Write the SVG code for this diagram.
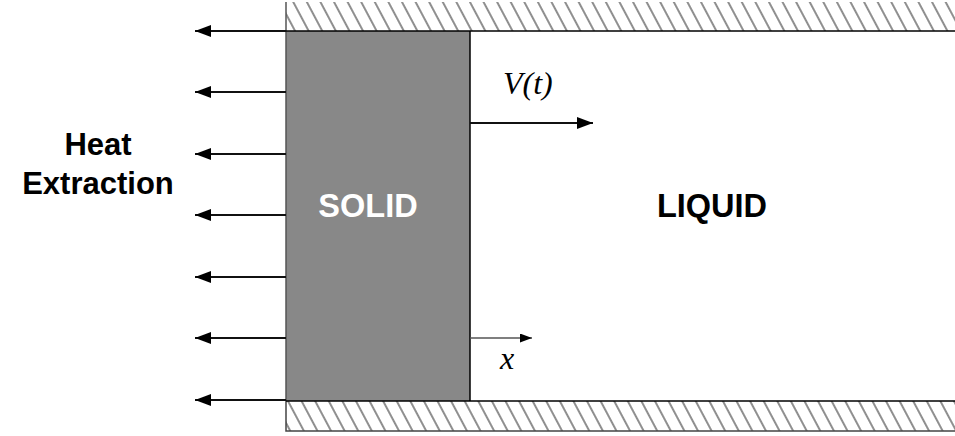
<svg xmlns="http://www.w3.org/2000/svg" width="955" height="436" viewBox="0 0 955 436">
<style>
.arr{stroke:#111;stroke-width:2;fill:none}
.bold{font-family:"Liberation Sans",Arial,sans-serif;font-weight:bold;font-size:31px;text-anchor:middle}
.big{font-size:32.5px}
.math{font-family:"Liberation Serif","Times New Roman",serif;font-style:italic;font-size:32px}
</style>
<defs>
<pattern id="hatch" patternUnits="userSpaceOnUse" width="12" height="40" patternTransform="rotate(-28)">
<line x1="6" y1="-5" x2="6" y2="45" stroke="#333" stroke-width="1.1"/>
</pattern>
<marker id="ah" markerUnits="userSpaceOnUse" markerWidth="18" markerHeight="12" refX="16" refY="6" orient="auto">
<path d="M0,0 L16,6 L0,12 Z" fill="#000"/>
</marker>
<marker id="ahs" markerUnits="userSpaceOnUse" markerWidth="14" markerHeight="10" refX="12" refY="4.5" orient="auto">
<path d="M0,0 L12,4.5 L0,9 Z" fill="#000"/>
</marker>
</defs>
<g id="wall-top">
<rect x="286" y="2" width="669" height="29" fill="url(#hatch)"/>
<line x1="286" y1="2" x2="286" y2="31" stroke="#555" stroke-width="1.5"/>
</g>
<g id="wall-bottom">
<rect x="286" y="401" width="669" height="30" fill="url(#hatch)"/>
<path d="M286,401 V431 H955" stroke="#444" stroke-width="1.5" fill="none"/>
</g>
<g id="solid">
<rect x="286" y="31" width="184" height="370" fill="#888"/>
<line x1="286" y1="31" x2="286" y2="401" stroke="#555" stroke-width="1.5"/>
<line x1="470" y1="31" x2="470" y2="401" stroke="#000" stroke-width="1.5"/>
<text class="bold big" x="368" y="217" fill="#fff">SOLID</text>
</g>
<g id="liquid">
<line x1="286" y1="31" x2="955" y2="31" stroke="#000" stroke-width="1.5"/>
<line x1="286" y1="401" x2="955" y2="401" stroke="#000" stroke-width="1.5"/>
<text class="bold big" x="712" y="217" fill="#000">LIQUID</text>
</g>
<g id="heat-extraction">
<text class="bold" x="98" y="155">Heat</text>
<text class="bold" x="98" y="194">Extraction</text>
</g>
<g id="connectors">
<line class="arr" x1="286" y1="31" x2="195" y2="31" marker-end="url(#ah)"/>
<line class="arr" x1="286" y1="92" x2="195" y2="92" marker-end="url(#ah)"/>
<line class="arr" x1="286" y1="154" x2="195" y2="154" marker-end="url(#ah)"/>
<line class="arr" x1="286" y1="215" x2="195" y2="215" marker-end="url(#ah)"/>
<line class="arr" x1="286" y1="277" x2="195" y2="277" marker-end="url(#ah)"/>
<line class="arr" x1="286" y1="338" x2="195" y2="338" marker-end="url(#ah)"/>
<line class="arr" x1="286" y1="400" x2="195" y2="400" marker-end="url(#ah)"/>
<line class="arr" x1="470" y1="123" x2="593" y2="123" marker-end="url(#ah)"/>
<line x1="470" y1="338" x2="532" y2="338" stroke="#555" stroke-width="1.5" marker-end="url(#ahs)"/>
</g>
<g id="labels">
<text class="math" x="503" y="94">V(t)</text>
<text class="math" x="500" y="369">x</text>
</g>
</svg>
